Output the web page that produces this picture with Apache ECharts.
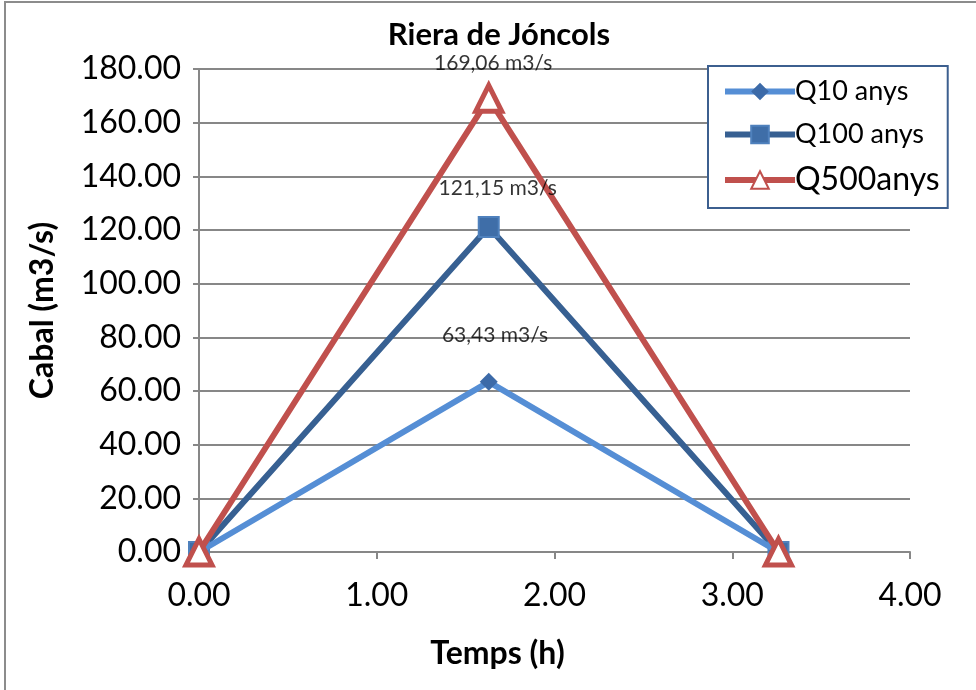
<!DOCTYPE html>
<html><head><meta charset="utf-8">
<script src="https://cdn.jsdelivr.net/npm/echarts@6/dist/echarts.min.js"></script>
<style>html,body{margin:0;padding:0;background:#fff}#c{width:976px;height:690px}</style>
</head><body><div id="c"></div>
<script>
const timeH = [0.00, 1.63, 3.26];
const q10 = [0, 63.43, 0];
const q100 = [0, 121.15, 0];
const q500 = [0, 169.06, 0];
const peakLabels = ['63,43 m3/s', '121,15 m3/s', '169,06 m3/s'];
const seriesNames = ['Q10 anys', 'Q100 anys', 'Q500anys'];
const yTicks = [0, 20, 40, 60, 80, 100, 120, 140, 160, 180];
const xTicks = [0, 1, 2, 3, 4];

const FONT = 'Lato, "Open Sans", sans-serif';
const chart = echarts.init(document.getElementById('c'), null, {renderer: 'canvas'});

function pts(ys) { return timeH.map((x, i) => [x, ys[i]]); }
function lbl(text, dy) {
  return { show: true, position: 'top', distance: dy, formatter: () => text,
           color: '#000', fontSize: 21, fontFamily: FONT };
}

chart.setOption({
  animation: false,
  graphic: [{
    type: 'rect', shape: {x: 5, y: 2, width: 1000, height: 1000},
    style: {fill: 'none', stroke: '#8c8c8c', lineWidth: 2}, z: -1
  }],
  title: {
    text: 'Riera de Jóncols', left: 494, top: 14, textAlign: 'center',
    textStyle: {fontSize: 31, fontWeight: 'bold', color: '#000', fontFamily: FONT}
  },
  legend: {
    orient: 'vertical', left: 708, top: 66,
    padding: [12, 8, 12, 14], itemGap: 16,
    itemWidth: 70, itemHeight: 22,
    borderColor: '#3c5f8f', borderWidth: 2, backgroundColor: '#fff',
    lineStyle: {width: 6},
    data: [
      {name: seriesNames[0], textStyle: {fontSize: 27}},
      {name: seriesNames[1], textStyle: {fontSize: 27}},
      {name: seriesNames[2], textStyle: {fontSize: 32}}
    ],
    textStyle: {color: '#000', fontFamily: FONT, padding: [0, 0, 0, -5]}
  },
  grid: {left: 199, right: 66, top: 69, bottom: 138, containLabel: false},
  xAxis: {
    type: 'value', min: 0, max: 4, interval: 1,
    name: 'Temps (h)', nameLocation: 'middle', nameGap: 86,
    nameTextStyle: {fontSize: 32, fontWeight: 'bold', color: '#000', fontFamily: FONT,
                    padding: [0, 114, 0, 0]},
    axisLine: {show: true, lineStyle: {color: '#878787', width: 2}},
    axisTick: {show: true, length: 7, lineStyle: {color: '#878787', width: 2}},
    splitLine: {show: false},
    axisLabel: {fontSize: 32, color: '#000', fontFamily: FONT, margin: 28,
                formatter: v => v.toFixed(2)}
  },
  yAxis: {
    type: 'value', min: 0, max: 180, interval: 20,
    name: 'Cabal (m3/s)', nameLocation: 'middle', nameGap: 140, nameRotate: 90,
    nameTextStyle: {fontSize: 32, fontWeight: 'bold', color: '#000', fontFamily: FONT},
    axisLine: {show: true, lineStyle: {color: '#878787', width: 2}},
    axisTick: {show: true, length: 6, lineStyle: {color: '#878787', width: 2}},
    splitLine: {show: true, lineStyle: {color: '#878787', width: 2}},
    axisLabel: {fontSize: 32, color: '#000', fontFamily: FONT, margin: 18,
                formatter: v => v.toFixed(2)}
  },
  series: [
    {
      name: seriesNames[0], type: 'line', data: pts(q10),
      lineStyle: {color: '#558ed5', width: 6}, itemStyle: {color: '#3c6aa8'},
      symbol: 'diamond', symbolSize: 18, z: 3,
      emphasis: {disabled: true}
    },
    {
      name: seriesNames[1], type: 'line', data: pts(q100),
      lineStyle: {color: '#376092', width: 6},
      itemStyle: {color: '#3f6ea8', borderColor: '#4f81bd', borderWidth: 2},
      symbol: 'rect', symbolSize: 20, z: 2,
      emphasis: {disabled: true}
    },
    {
      name: seriesNames[2], type: 'line', data: pts(q500),
      lineStyle: {color: '#c0504d', width: 6},
      itemStyle: {color: '#ffffff', borderColor: '#c0504d', borderWidth: 5},
      symbol: 'triangle', symbolSize: 26, z: 4,
      emphasis: {disabled: true}
    },
    {
      name: 'labels10', type: 'scatter', data: [[timeH[1] + 0.035, q10[1]]], symbolSize: 0,
      label: lbl(peakLabels[0], 36), silent: true, z: 10
    },
    {
      name: 'labels100', type: 'scatter', data: [[timeH[1] + 0.05, q100[1]]], symbolSize: 0,
      label: lbl(peakLabels[1], 28), silent: true, z: 10
    },
    {
      name: 'labels500', type: 'scatter', data: [[timeH[1] + 0.025, q500[1]]], symbolSize: 0,
      label: lbl(peakLabels[2], 25), silent: true, z: 10
    }
  ]
});
</script></body></html>
